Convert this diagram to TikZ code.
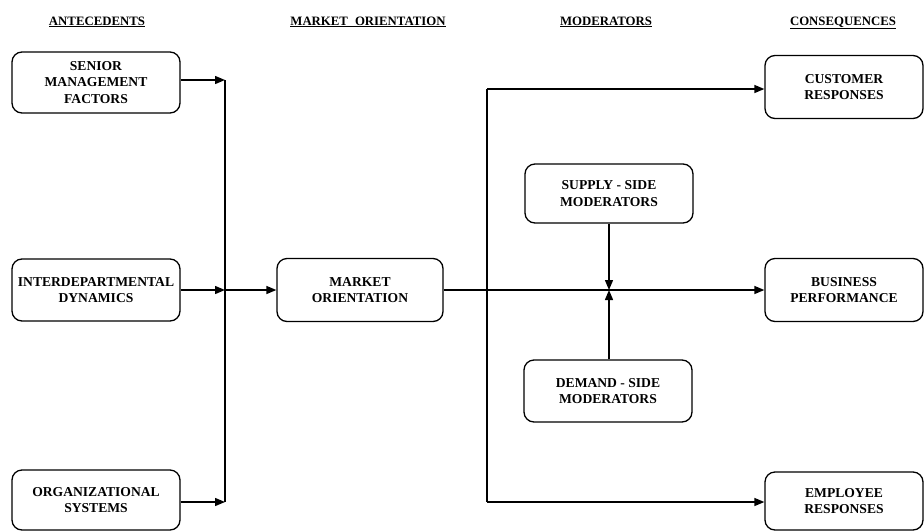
\documentclass[tikz,border=0pt]{standalone}
\usepackage{fontspec}
\setmainfont{Liberation Serif}
\usetikzlibrary{arrows.meta}
\begin{document}
\begin{tikzpicture}[x=1pt,y=-1pt,
  box/.style={draw, line width=1.3pt, rounded corners=10pt, align=center,
    inner sep=0pt, font=\fontsize{13.6}{16.5}\selectfont\bfseries},
  head/.style={anchor=base, font=\fontsize{12.8}{15}\selectfont\bfseries},
  link/.style={line width=1.4pt},
  arr/.style={link, -{Triangle[length=10pt,width=8pt]}}]
\useasboundingbox (0,0) rectangle (924,531);

% column headings
\node[head] (h1) at (97,25)  {\underline{ANTECEDENTS}};
\node[head] (h2) at (368,25) {\underline{MARKET\hspace{7pt}ORIENTATION}};
\node[head] (h3) at (606,25) {\underline{MODERATORS}};
\node[head] (h4) at (843,25) {\underline{CONSEQUENCES}};

% antecedents
\node[box, minimum width=168pt, minimum height=61pt] (smf) at (96,82.5)
  {SENIOR\\MANAGEMENT\\FACTORS};
\node[box, minimum width=168pt, minimum height=62pt] (idd) at (96,290)
  {INTERDEPARTMENTAL\\DYNAMICS};
\node[box, minimum width=168pt, minimum height=60pt] (ors) at (96,500)
  {ORGANIZATIONAL\\SYSTEMS};

% market orientation
\node[box, minimum width=166pt, minimum height=63pt] (mo) at (360,290)
  {MARKET\\ORIENTATION};

% moderators
\node[box, minimum width=168pt, minimum height=59pt] (sup) at (609,193.5)
  {SUPPLY - SIDE\\MODERATORS};
\node[box, minimum width=168pt, minimum height=62pt] (dem) at (608,391)
  {DEMAND - SIDE\\MODERATORS};

% consequences
\node[box, minimum width=158pt, minimum height=63pt] (cus) at (844,87)
  {CUSTOMER\\RESPONSES};
\node[box, minimum width=158pt, minimum height=63pt] (bus) at (844,290)
  {BUSINESS\\PERFORMANCE};
\node[box, minimum width=158pt, minimum height=58pt] (emp) at (844,501)
  {EMPLOYEE\\RESPONSES};

% collecting line on the left
\coordinate (lt) at (225,80);
\coordinate (lm) at (225,290);
\coordinate (lb) at (225,502);
\draw[link] (lt) -- (lb);
\draw[arr] (smf.east |- lt) -- (lt);
\draw[arr] (idd.east |- lm) -- (lm);
\draw[arr] (ors.east |- lb) -- (lb);
\draw[arr] (lm) -- (mo.west);

% main line and branches on the right
\coordinate (rm) at (487,290);
\coordinate (rt) at (487,89);
\coordinate (rb) at (487,502);
\coordinate (jn) at (sup.south |- rm);
\draw[arr] (mo.east) -- (bus.west);
\draw[link] (rt) -- (rb);
\draw[arr] (rt) -- (cus.west |- rt);
\draw[arr] (rb) -- (emp.west |- rb);

% moderating effects
\draw[arr] (sup.south) -- (jn);
\draw[arr] (dem.north -| jn) -- (jn);
\end{tikzpicture}
\end{document}
